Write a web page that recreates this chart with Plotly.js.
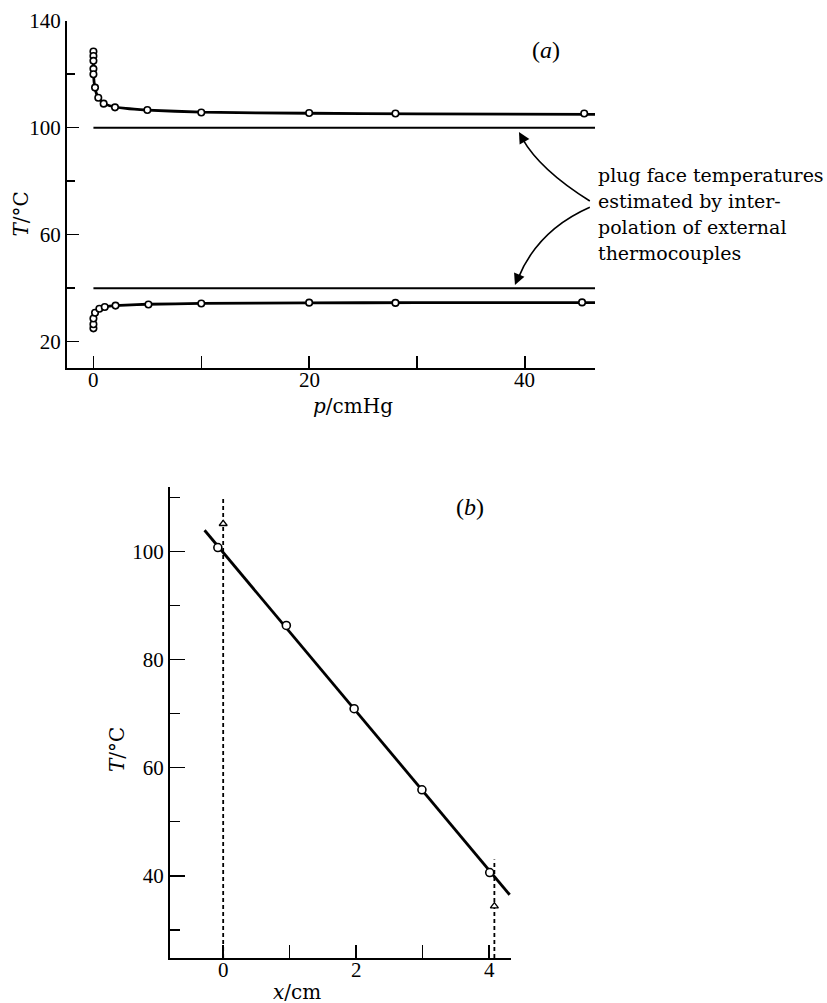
<!DOCTYPE html>
<html>
<head>
<meta charset="utf-8">
<script src="https://cdn.plot.ly/plotly-3.0.1.min.js"></script>
<style>html,body{margin:0;padding:0;background:#fff;}#chart{width:827px;height:1003px;}</style>
</head>
<body>
<div id="chart"></div>
<script>
// ---- panel (a): temperature vs pressure ----
const hotP  = [0, 0, 0, 0, 0, 0.15, 0.45, 0.95, 2, 5, 10, 20, 28, 45.5];
const hotT  = [128.5, 126.8, 125, 122, 120, 115, 111.2, 109, 107.6, 106.6, 105.7, 105.5, 105.3, 105.3];
const coldP = [0, 0, 0, 0.15, 0.55, 1.05, 2.05, 5.1, 10, 20, 28, 45.3];
const coldT = [25.0, 26.5, 28.7, 30.8, 32.3, 33.0, 33.5, 33.9, 34.3, 34.6, 34.5, 34.7];
const hotCurveP  = [0, 0, 0.05, 0.15, 0.4, 0.8, 1.5, 3, 5, 10, 20, 30, 46.5];
const hotCurveT  = [129.5, 121, 117.5, 114.6, 111.6, 109.6, 108.2, 107.2, 106.6, 105.8, 105.4, 105.2, 105.0];
const coldCurveP = [0, 0, 0.05, 0.15, 0.4, 0.8, 1.5, 3, 5, 10, 20, 30, 46.5];
const coldCurveT = [24.2, 27.5, 29.3, 30.8, 32.0, 32.8, 33.3, 33.7, 34.0, 34.3, 34.5, 34.6, 34.6];
const faceP    = [0, 46.5];
const faceHotT = [100, 100];
const faceColdT = [40, 40];
const aXTicks = [0, 20, 40];
const aXMinor = [10, 30];
const aYTicks = [20, 60, 100, 140];
const aYMinor = [40, 80, 120];

// ---- panel (b): temperature vs position ----
const posX  = [-0.08, 0.95, 1.97, 2.99, 4.01];
const posT  = [100.7, 86.3, 70.9, 55.9, 40.6];
const fitX  = [-0.28, 4.31];
const fitT  = [103.9, 36.5];
const faceX = [0, 4.08];
const faceT = [105.1, 34.4];
const dashLeftX  = [0, 0];
const dashLeftT  = [24.8, 109.7];
const dashRightX = [4.08, 4.08];
const dashRightT = [24.8, 43.0];
const bXTicks = [0, 2, 4];
const bXMinor = [1, 3];
const bYTicks = [40, 60, 80, 100];
const bYMinor = [30, 50, 70, 90, 110];

const annoLines = ['plug face temperatures', 'estimated by inter-', 'polation of external', 'thermocouples'];
const annoLineY = [175, 201, 227.5, 253];   // pixel rows of the note lines

const tickFont = {family: 'Liberation Serif', size: 21, color: '#000'};
const textFont = {family: 'DejaVu Serif', size: 20, color: '#000'};
const annoFont = {family: 'DejaVu Serif', size: 19, color: '#000'};
const circle = {symbol: 'circle', size: 6.5, color: '#fff', line: {color: '#000', width: 1.6}};

const traces = [
  {x: faceP, y: faceHotT, xaxis: 'x', yaxis: 'y', mode: 'lines', line: {color: '#000', width: 2}, showlegend: false},
  {x: faceP, y: faceColdT, xaxis: 'x', yaxis: 'y', mode: 'lines', line: {color: '#000', width: 2}, showlegend: false},
  {x: hotCurveP, y: hotCurveT, xaxis: 'x', yaxis: 'y', mode: 'lines', line: {color: '#000', width: 2.8, shape: 'spline', smoothing: 0.5}, showlegend: false},
  {x: coldCurveP, y: coldCurveT, xaxis: 'x', yaxis: 'y', mode: 'lines', line: {color: '#000', width: 2.8, shape: 'spline', smoothing: 0.5}, showlegend: false},
  {x: hotP, y: hotT, xaxis: 'x', yaxis: 'y', mode: 'markers', marker: circle, showlegend: false},
  {x: coldP, y: coldT, xaxis: 'x', yaxis: 'y', mode: 'markers', marker: circle, showlegend: false},

  {x: dashLeftX, y: dashLeftT, xaxis: 'x2', yaxis: 'y2', mode: 'lines', line: {color: '#000', width: 1.8, dash: '4px,3px'}, showlegend: false},
  {x: dashRightX, y: dashRightT, xaxis: 'x2', yaxis: 'y2', mode: 'lines', line: {color: '#000', width: 1.8, dash: '4px,3px'}, showlegend: false},
  {x: fitX, y: fitT, xaxis: 'x2', yaxis: 'y2', mode: 'lines', line: {color: '#000', width: 2.8}, showlegend: false},
  {x: posX, y: posT, xaxis: 'x2', yaxis: 'y2', mode: 'markers', marker: {symbol: 'circle', size: 8, color: '#fff', line: {color: '#000', width: 1.6}}, showlegend: false},
  {x: faceX, y: faceT, xaxis: 'x2', yaxis: 'y2', mode: 'markers', marker: {symbol: 'triangle-up', size: 7, color: '#fff', line: {color: '#000', width: 1.3}}, showlegend: false}
];

function axisBase() {
  return {
    showgrid: false, zeroline: false, showline: true, linecolor: '#000', linewidth: 2,
    ticks: 'inside', tickcolor: '#000', tickwidth: 1.5, tickfont: tickFont,
    tickmode: 'array', fixedrange: true
  };
}

function px(x) { return x / 827; }
function py(y) { return 1 - y / 1003; }

const annotations = [
  {xref: 'x', yref: 'y', x: 39.45, y: 98.4, axref: 'x', ayref: 'y', ax: 40.0, ay: 94.5, text: '', showarrow: true, arrowhead: 2, arrowsize: 1.4, arrowwidth: 1.6, arrowcolor: '#000'},
  {xref: 'x', yref: 'y', x: 39.08, y: 41.2, axref: 'x', ayref: 'y', ax: 39.5, ay: 45.3, text: '', showarrow: true, arrowhead: 2, arrowsize: 1.4, arrowwidth: 1.6, arrowcolor: '#000'},
  {xref: 'paper', yref: 'paper', x: px(546), y: py(50), xanchor: 'center', yanchor: 'middle',
   text: '(<i>a</i>)', showarrow: false, font: {family: 'Liberation Serif', size: 24, color: '#000'}},
  {xref: 'paper', yref: 'paper', x: px(470), y: py(507), xanchor: 'center', yanchor: 'middle',
   text: '(<i>b</i>)', showarrow: false, font: {family: 'Liberation Serif', size: 24, color: '#000'}},
  // axis titles
  {xref: 'paper', yref: 'paper', x: px(353), y: py(406), xanchor: 'center', yanchor: 'middle',
   text: '<i>p</i>/cmHg', showarrow: false, font: textFont},
  {xref: 'paper', yref: 'paper', x: px(21), y: py(214.5), xanchor: 'center', yanchor: 'middle', textangle: -90,
   text: '<i>T</i>/°C', showarrow: false, font: textFont},
  {xref: 'paper', yref: 'paper', x: px(297), y: py(992), xanchor: 'center', yanchor: 'middle',
   text: '<i>x</i>/cm', showarrow: false, font: textFont},
  {xref: 'paper', yref: 'paper', x: px(117), y: py(750), xanchor: 'center', yanchor: 'middle', textangle: -90,
   text: '<i>T</i>/°C', showarrow: false, font: textFont}
];
// x tick labels sit tight under each axis, as in the print
aXTicks.forEach(function (v) {
  annotations.push({xref: 'x', yref: 'paper', x: v, y: py(380), xanchor: 'center', yanchor: 'middle',
    text: String(v), showarrow: false, font: tickFont});
});
bXTicks.forEach(function (v) {
  annotations.push({xref: 'x2', yref: 'paper', x: v, y: py(970), xanchor: 'center', yanchor: 'middle',
    text: String(v), showarrow: false, font: tickFont});
});
annoLines.forEach(function (line, i) {
  annotations.push({xref: 'paper', yref: 'paper', x: px(596), y: py(annoLineY[i]), xanchor: 'left', yanchor: 'middle',
    align: 'left', text: line, showarrow: false, font: annoFont});
});

const layout = {
  width: 827, height: 1003,
  margin: {l: 0, r: 0, t: 0, b: 0},
  paper_bgcolor: '#fff', plot_bgcolor: 'rgba(0,0,0,0)',
  showlegend: false,
  xaxis: Object.assign(axisBase(), {
    domain: [px(67), px(595)], range: [-2.45, 46.5], anchor: 'y',
    tickvals: aXTicks, ticklen: 12, showticklabels: false,
    minor: {tickmode: 'array', tickvals: aXMinor, ticks: 'inside', ticklen: 12, tickwidth: 1.5, tickcolor: '#000'}
  }),
  yaxis: Object.assign(axisBase(), {
    domain: [py(368.3), py(20.7)], range: [10.06, 140], anchor: 'x',
    tickvals: aYTicks, ticklen: 12,
    minor: {tickmode: 'array', tickvals: aYMinor, ticks: 'inside', ticklen: 8, tickwidth: 1.5, tickcolor: '#000'}
  }),
  xaxis2: Object.assign(axisBase(), {
    domain: [px(170), px(511)], range: [-0.80, 4.33], anchor: 'y2',
    tickvals: bXTicks, ticklen: 13, showticklabels: false,
    minor: {tickmode: 'array', tickvals: bXMinor, ticks: 'inside', ticklen: 13, tickwidth: 1.5, tickcolor: '#000'}
  }),
  yaxis2: Object.assign(axisBase(), {
    domain: [py(958), py(487)], range: [24.8, 111.9], anchor: 'x2',
    tickvals: bYTicks, ticklen: 15,
    minor: {tickmode: 'array', tickvals: bYMinor, ticks: 'inside', ticklen: 10, tickwidth: 1.5, tickcolor: '#000'}
  }),
  shapes: [
    {type: 'path', xref: 'x', yref: 'y', path: 'M 46.02,72.6 Q 41.40,84.2 39.75,96.0', line: {color: '#000', width: 1.6}},
    {type: 'path', xref: 'x', yref: 'y', path: 'M 46.02,70.3 Q 41.17,61.7 39.35,43.5', line: {color: '#000', width: 1.6}}
  ],
  annotations: annotations
};

Plotly.newPlot('chart', traces, layout, {staticPlot: true, displayModeBar: false});
</script>
</body>
</html>
